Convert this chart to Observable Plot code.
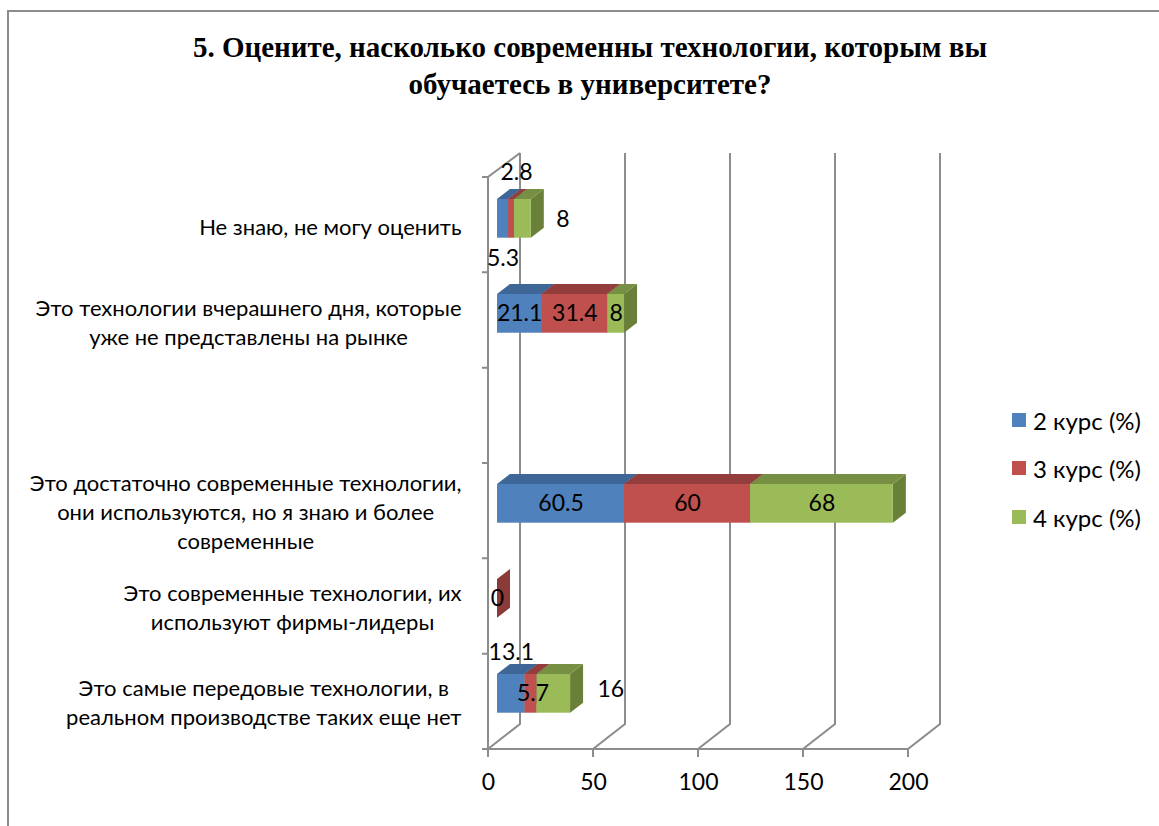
<!DOCTYPE html>
<html><head><meta charset="utf-8">
<script src="https://cdn.jsdelivr.net/npm/d3@7"></script>
<script src="https://cdn.jsdelivr.net/npm/@observablehq/plot@0.6"></script>
<style>
body{margin:0;background:#fff;}
#wrap{position:relative;width:1159px;height:826px;overflow:hidden;font-family:Lato,sans-serif;background:#fff;}
#frame{position:absolute;left:7px;top:10px;width:1200px;height:900px;border-left:2px solid #8c8c8c;border-top:2px solid #8c8c8c;}
#title{position:absolute;left:8px;width:1164px;top:29px;text-align:center;font:bold 29px/37px "Liberation Serif","Times New Roman",serif;color:#000;}
#chart{position:absolute;left:0;top:100px;}
.lg{position:absolute;left:1012px;height:30px;display:flex;align-items:center;font:24px Lato,sans-serif;color:#000;white-space:nowrap;}
.lg span.sw{display:inline-block;width:14px;height:14px;margin-right:7px;}
</style></head>
<body>
<div id="wrap">
  <div id="frame"></div>
  <div id="title">5. Оцените, насколько современны технологии, которым вы<br>обучаетесь в университете?</div>
  <div id="chart"></div>
</div>
<script>
// ---- data ----
const categories = [
  "Не знаю, не могу оценить",
  "Это технологии вчерашнего дня, которые\nуже не представлены на рынке",
  " ",
  "Это достаточно современные технологии,\nони используются, но я знаю и более\nсовременные",
  "Это современные технологии, их\nиспользуют фирмы-лидеры",
  "Это самые передовые технологии, в\nреальном производстве таких еще нет"
];
const series = ["2 курс (%)", "3 курс (%)", "4 курс (%)"];
const course2 = [5.3, 21.1, null, 60.5, 0, 13.1];
const course3 = [2.8, 31.4, null, 60, 0, 5.7];
const course4 = [8, 8, null, 68, 0, 16];
const xTicks = [0, 50, 100, 150, 200];

// ---- styles ----
const fronts = ["#4F81BD", "#C0504D", "#9BBB59"];
const tops   = ["#3E6696", "#933E3C", "#778F43"];
const sides  = ["#385D8A", "#8A3A37", "#6A8039"];
const gridColor = "#8c8c8c";
const FONT = "Lato, sans-serif";

// layout
const W = 1159, H = 726;
const mL = 488, mR = 251, mT = 77, mB = 77;
const INSET_T = 21, INSET_B = 35.3;     // bar front face inside band
const BAR_DX = 9, BAR_DY = -7.2;        // bar sits inside the depth
const BAR_DEPTH_X = 13, BAR_DEPTH_Y = 10;
const WALL_DX = 32, WALL_DY_TOP = 24, WALL_DY_BOT = 25;
const zeroShown = "3 курс (%)";
// label offsets from the front-face centre (layout only)
const labelOffsets = {
  "0|0": [0, 40], "0|1": [5, -46], "0|2": [40, 1],
  "5|0": [0, -41], "5|1": [2, 0], "5|2": [57, -4]
};

// ---- table ----
const seriesValues = [course2, course3, course4];
const table = [];
categories.forEach((cat, i) => {
  let acc = 0;
  series.forEach((s, j) => {
    const v = seriesValues[j][i];
    if (v == null) return;
    table.push({cat, ci: i, series: s, si: j, value: v, x1: acc, x2: acc + v});
    acc += v;
  });
});
const drawn = table.filter(d => d.value !== 0 || d.series === zeroShown);

// measure text
const ctx = document.createElement("canvas").getContext("2d");
function textW(str, size) { ctx.font = `${size}px ${FONT}`; return ctx.measureText(str).width; }

function walls(index, scales, values, dim) {
  const sx = scales.x;
  const yTop = dim.marginTop, yBot = dim.height - dim.marginBottom;
  const x0 = sx(xTicks[0]), xEnd = sx(xTicks[xTicks.length - 1]);
  const p = d3.path();
  p.moveTo(x0, yBot); p.lineTo(x0, yTop); p.lineTo(x0 + WALL_DX, yTop - WALL_DY_TOP);
  p.moveTo(x0 - 6, yBot); p.lineTo(xEnd, yBot);
  const n = categories.length, bw = (yBot - yTop) / n;
  for (let k = 0; k <= n; k++) { const y = yTop + k * bw; p.moveTo(x0 - 6, y); p.lineTo(x0, y); }
  for (const t of xTicks) {
    const x = sx(t);
    p.moveTo(x + WALL_DX, yTop - WALL_DY_TOP); p.lineTo(x + WALL_DX, yBot - WALL_DY_BOT);
    p.lineTo(x, yBot); p.lineTo(x, yBot + 8);
  }
  const g = d3.create("svg:path").attr("d", p.toString()).attr("fill", "none")
    .attr("stroke", gridColor).attr("stroke-width", 2);
  return g.node();
}

function faces(index, scales, values, dim) {
  const sx = scales.x, sy = scales.y;
  const bw = typeof sy.bandwidth === "function" ? sy.bandwidth() : (dim.height - dim.marginTop - dim.marginBottom) / categories.length;
  const g = d3.create("svg:g");
  for (const d of drawn) {
    const X1 = sx(d.x1) + BAR_DX, X2 = sx(d.x2) + BAR_DX;
    const yt = sy(d.cat) + INSET_T, yb = sy(d.cat) + bw - INSET_B;
    g.append("polygon").attr("fill", sides[d.si])
      .attr("points", [[X2, yt], [X2 + BAR_DEPTH_X, yt - BAR_DEPTH_Y], [X2 + BAR_DEPTH_X, yb - BAR_DEPTH_Y], [X2, yb]].join(" "));
    g.append("polygon").attr("fill", tops[d.si])
      .attr("points", [[X1, yt], [X2, yt], [X2 + BAR_DEPTH_X, yt - BAR_DEPTH_Y], [X1 + BAR_DEPTH_X, yt - BAR_DEPTH_Y]].join(" "));
  }
  return g.node();
}

const labelMarks = drawn.map(d => {
  const off = labelOffsets[`${d.ci}|${d.si}`] || [0, 0];
  return Plot.text([d], {
    x: r => (r.x1 + r.x2) / 2, y: "cat", text: r => String(r.value),
    dx: BAR_DX + off[0], dy: BAR_DY + off[1], fontSize: 23, fill: "#000", fontFamily: FONT
  });
});

const catMarks = categories.map(c => {
  const w = Math.max(...c.split("\n").map(l => textW(l, 22)));
  return Plot.text([c], {
    x: () => xTicks[0], y: d => d, text: d => d.trim(), textAnchor: "middle",
    dx: -27 - w / 2, fontSize: 22, lineHeight: 1.32, fill: "#000", fontFamily: FONT
  });
});

const chart = Plot.plot({
  width: W, height: H,
  marginLeft: mL, marginRight: mR, marginTop: mT, marginBottom: mB,
  style: {fontFamily: FONT, fontSize: "23px", color: "#000", background: "transparent", overflow: "visible"},
  x: {domain: [0, 200], ticks: xTicks, tickSize: 0, tickPadding: 24, label: null},
  y: {domain: categories, padding: 0, axis: null},
  color: {domain: series, range: fronts},
  marks: [
    walls,
    faces,
    Plot.barX(drawn, {x1: "x1", x2: "x2", y: "cat", fill: "series", insetTop: INSET_T, insetBottom: INSET_B, dx: BAR_DX}),
    ...labelMarks,
    ...catMarks
  ]
});
document.getElementById("chart").appendChild(chart);

// legend
const wrap = document.getElementById("wrap");
const legendY = [420, 468, 517];
series.forEach((s, j) => {
  const el = document.createElement("div");
  el.className = "lg";
  el.style.top = (legendY[j] - 15) + "px";
  el.innerHTML = `<span class="sw" style="background:${fronts[j]}"></span><span>${s}</span>`;
  wrap.appendChild(el);
});
</script>
</body></html>
